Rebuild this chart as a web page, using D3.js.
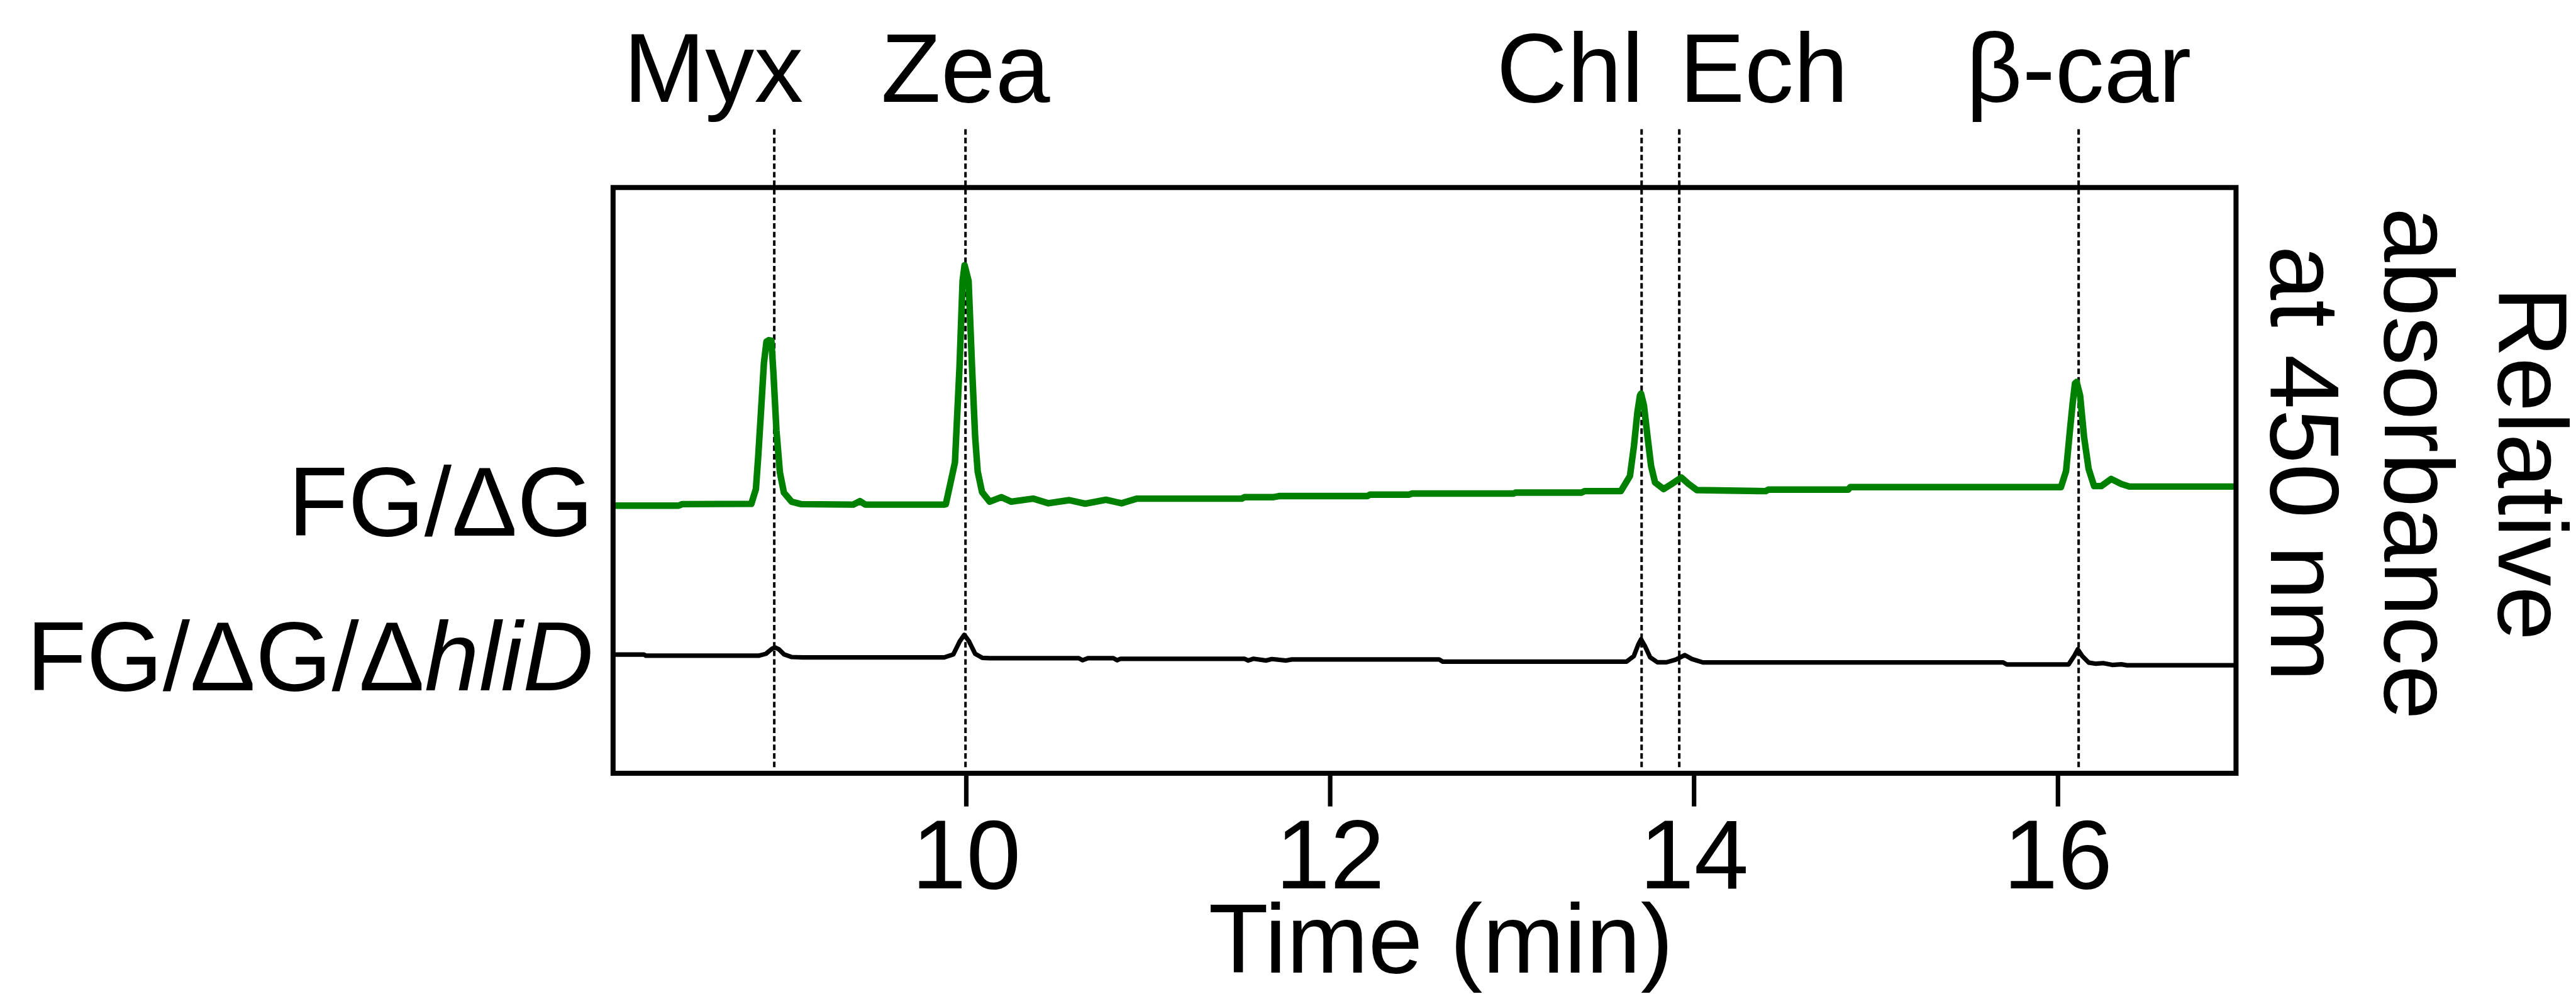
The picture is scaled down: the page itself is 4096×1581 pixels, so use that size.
<!DOCTYPE html>
<html>
<head>
<meta charset="utf-8">
<script src="https://d3js.org/d3.v7.min.js"></script>
<style>
  body { margin: 0; background: #fff; }
  svg { display: block; background: #fff; }
  text { font-family: "Liberation Sans", Arial, Helvetica, sans-serif; fill: #000; }
</style>
</head>
<body>
<svg width="4096" height="1581"></svg>
<script>
// pigment peaks (retention time, min)
var pigments = ['Myx', 'Zea', 'Chl', 'Ech', 'β-car'];
var pigmentTimes = [8.946, 9.997, 13.713, 13.92, 16.115];

var xTicks = [10, 12, 14, 16];
var xDomain = [8.06, 16.98];

var strains = ['FG/ΔG', 'FG/ΔG/Δ'];
var strainItalic = ['', 'hliD'];

// absorbance traces, [time, relative absorbance] (arbitrary units, stacked)
var traceFG = [
  [8.06, 45.69], [8.42, 45.69], [8.44, 45.94], [8.82, 46.0], [8.845, 48.52], [8.858, 54.19],
  [8.875, 62.77], [8.889, 69.99], [8.903, 73.68], [8.916, 73.94], [8.930, 73.85], [8.941, 68.53],
  [8.958, 58.48], [8.977, 51.35], [8.999, 47.92], [9.041, 46.37], [9.096, 45.94], [9.38, 45.86],
  [9.417, 46.46], [9.447, 45.86], [9.878, 45.86], [9.889, 45.94], [9.939, 53.07], [9.964, 69.30],
  [9.981, 84.07], [9.992, 86.73], [10.014, 84.07], [10.033, 69.30], [10.050, 57.45], [10.064, 51.52],
  [10.088, 48.00], [10.130, 46.37], [10.194, 47.14], [10.249, 46.37], [10.368, 46.89], [10.453, 46.1],
  [10.567, 46.63], [10.655, 46.03], [10.769, 46.7], [10.854, 46.1], [10.94, 46.89], [11.515, 46.89],
  [11.53, 47.14], [11.69, 47.14], [11.72, 47.32], [12.206, 47.32], [12.22, 47.57], [12.435, 47.57],
  [12.45, 47.75], [13.01, 47.75], [13.02, 47.92], [13.384, 47.92], [13.40, 48.17], [13.599, 48.17],
  [13.649, 50.75], [13.671, 55.90], [13.690, 61.66], [13.704, 64.49], [13.710, 64.83], [13.726, 62.77],
  [13.746, 57.36], [13.765, 52.47], [13.787, 49.64], [13.834, 48.52], [13.878, 49.38], [13.931, 50.49],
  [13.972, 49.38], [14.017, 48.35], [14.395, 48.17], [14.41, 48.43], [14.849, 48.43], [14.86, 48.86],
  [16.018, 48.86], [16.046, 51.61], [16.068, 58.82], [16.082, 63.12], [16.095, 66.55], [16.104, 66.81],
  [16.123, 64.49], [16.145, 57.36], [16.170, 51.95], [16.200, 49.03], [16.239, 49.03], [16.294, 50.24],
  [16.350, 49.38], [16.394, 48.95], [16.98, 48.95]
];

var traceHliD = [
  [8.06, 20.27], [8.23, 20.27], [8.24, 20.07], [8.86, 20.07], [8.90, 20.4], [8.935, 21.3],
  [8.95, 21.49], [8.97, 21.2], [9.00, 20.3], [9.04, 19.85], [9.10, 19.78], [9.88, 19.78],
  [9.93, 20.3], [9.965, 22.5], [9.99, 23.64], [10.015, 22.6], [10.05, 20.4], [10.09, 19.7],
  [10.13, 19.64], [10.62, 19.64], [10.64, 19.3], [10.67, 19.64], [10.81, 19.64], [10.83, 19.3],
  [10.85, 19.55], [11.53, 19.55], [11.55, 19.25], [11.58, 19.55], [11.65, 19.25], [11.68, 19.5],
  [11.76, 19.25], [11.79, 19.43], [12.60, 19.43], [12.62, 19.06], [13.63, 19.06], [13.67, 20.0],
  [13.695, 22.0], [13.71, 22.87], [13.73, 21.8], [13.76, 19.8], [13.80, 18.95], [13.85, 18.95],
  [13.90, 19.4], [13.95, 20.18], [13.99, 19.5], [14.05, 18.92], [15.70, 18.92], [15.72, 18.58],
  [16.06, 18.58], [16.09, 20.0], [16.11, 21.15], [16.135, 20.0], [16.17, 18.9], [16.21, 18.7],
  [16.25, 18.8], [16.30, 18.5], [16.35, 18.6], [16.38, 18.44], [16.98, 18.44]
];

var yLabelLines = ['Relative', 'absorbance', 'at 450 nm'];
var xLabel = 'Time (min)';

// layout is worked out in the reference's pixels, then scaled down to the window
var k = 4096 / 5122;
var fontSize = 195;

var svg = d3.select('svg');
var g = svg.append('g').attr('transform', 'scale(' + k + ')');

var x = d3.scaleLinear().domain(xDomain).range([1219, 4446]);
var y = d3.scaleLinear().domain([0, 100]).range([1538, 373]);

var line = d3.line()
  .x(function (d) { return x(d[0]); })
  .y(function (d) { return y(d[1]); });

// dotted marker lines
g.append('g')
  .selectAll('line')
  .data(pigmentTimes)
  .enter()
  .append('line')
  .attr('x1', function (d) { return x(d); })
  .attr('x2', function (d) { return x(d); })
  .attr('y1', 257)
  .attr('y2', 1526)
  .style('stroke', '#000')
  .style('stroke-width', 5)
  .style('stroke-dasharray', '11,6');

// pigment names above the plot
var labelAnchor = { 'Myx': 'middle', 'Zea': 'middle', 'Chl': 'end', 'Ech': 'start', 'β-car': 'middle' };
var labelShift = { 'Myx': -121, 'Zea': 0, 'Chl': 4, 'Ech': 0, 'β-car': 0 };
g.append('g')
  .selectAll('text')
  .data(pigments)
  .enter()
  .append('text')
  .attr('x', function (d, i) { return x(pigmentTimes[i]) + labelShift[d]; })
  .attr('y', 203)
  .attr('text-anchor', function (d) { return labelAnchor[d]; })
  .style('font-size', fontSize + 'px')
  .text(function (d) { return d; });

// traces
g.append('path')
  .datum(traceFG)
  .attr('d', line)
  .style('fill', 'none')
  .style('stroke', '#008000')
  .style('stroke-width', 13)
  .style('stroke-linejoin', 'round');

g.append('path')
  .datum(traceHliD)
  .attr('d', line)
  .style('fill', 'none')
  .style('stroke', '#000')
  .style('stroke-width', 9)
  .style('stroke-linejoin', 'round');

// frame
g.append('rect')
  .attr('x', x(xDomain[0]))
  .attr('y', y(100))
  .attr('width', x(xDomain[1]) - x(xDomain[0]))
  .attr('height', y(0) - y(100))
  .style('fill', 'none')
  .style('stroke', '#000')
  .style('stroke-width', 10);

// x axis
var xAxis = g.append('g')
  .attr('transform', 'translate(0,' + y(0) + ')')
  .call(d3.axisBottom(x).tickValues(xTicks).tickSize(66).tickPadding(25).tickFormat(d3.format('d')));
xAxis.select('.domain').remove();
xAxis.selectAll('.tick line').style('stroke', '#000').style('stroke-width', 9);
xAxis.selectAll('.tick text')
  .style('font-size', fontSize + 'px')
  .style('font-family', '"Liberation Sans", Arial, sans-serif')
  .attr('fill', '#000');

g.append('text')
  .attr('x', 2865)
  .attr('y', 1934)
  .attr('text-anchor', 'middle')
  .style('font-size', fontSize + 'px')
  .text(xLabel);

// strain names on the left
var strainY = [1066, 1373];
var strainText = g.append('g')
  .selectAll('text')
  .data(strains)
  .enter()
  .append('text')
  .attr('x', 1180)
  .attr('y', function (d, i) { return strainY[i]; })
  .attr('text-anchor', 'end')
  .style('font-size', fontSize + 'px');
strainText.append('tspan').text(function (d) { return d; });
strainText.append('tspan')
  .style('font-style', 'italic')
  .text(function (d, i) { return strainItalic[i]; });

// rotated label on the right
var yLabelX = [4968, 4742, 4516];
g.append('g')
  .selectAll('text')
  .data(yLabelLines)
  .enter()
  .append('text')
  .attr('transform', function (d, i) { return 'translate(' + yLabelX[i] + ',922) rotate(90)'; })
  .attr('text-anchor', 'middle')
  .style('font-size', fontSize + 'px')
  .text(function (d) { return d; });
</script>
</body>
</html>
